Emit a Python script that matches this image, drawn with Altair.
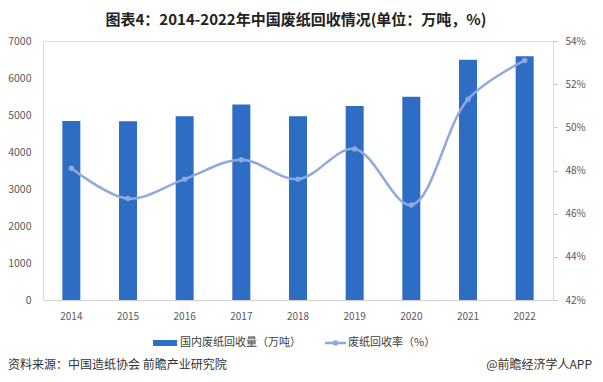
import altair as alt
import pandas as pd

years = ["2014", "2015", "2016", "2017", "2018", "2019", "2020", "2021", "2022"]
volume = [4841, 4832, 4963, 5285, 4964, 5244, 5493, 6491, 6585]
rate = [48.1, 46.7, 47.6, 48.5, 47.6, 49.0, 46.4, 51.3, 53.1]

title_text = "图表4：2014-2022年中国废纸回收情况(单位：万吨，%)"
legend_bar = "国内废纸回收量（万吨）"
legend_line = "废纸回收率（%）"
source_text = "资料来源：中国造纸协会 前瞻产业研究院"
brand_text = "@前瞻经济学人APP"

FONT = "Noto Sans CJK SC"
BAR = "#2E6DC4"
LINE = "#8FA9DE"
GRAY = "#595959"

df = pd.DataFrame({"year": years, "volume": volume, "rate": rate})
one = pd.DataFrame({"k": [0]})

x = alt.X("year:N", title=None,
          scale=alt.Scale(paddingInner=0, paddingOuter=0),
          axis=alt.Axis(labelAngle=0, labelColor=GRAY, labelFontSize=10, labelFont=FONT,
                        ticks=False, domainColor="#D0D0D0", labelPadding=11))

bars = alt.Chart(df).mark_bar(size=18, color=BAR).encode(
    x=x,
    y=alt.Y("volume:Q", title=None,
            scale=alt.Scale(domain=[0, 7000]),
            axis=alt.Axis(values=list(range(0, 7001, 1000)), grid=False, ticks=False,
                          format="d", domain=True, domainColor="#D9D9D9", labelColor=GRAY,
                          labelFontSize=10.5, labelFont=FONT, labelPadding=12)),
)

line = alt.Chart(df).mark_line(color=LINE, strokeWidth=2.5, interpolate="catmull-rom").encode(
    x=alt.X("year:N"),
    y=alt.Y("rate:Q", title=None,
            scale=alt.Scale(domain=[42, 54]),
            axis=alt.Axis(orient="right", values=list(range(42, 55, 2)), grid=False,
                          labelExpr="datum.value + '%'", ticks=True, tickSize=4,
                          tickColor="#BFBFBF", domain=True, domainColor="#D9D9D9",
                          labelColor=GRAY, labelFontSize=10, labelFont=FONT, labelPadding=8)),
)
pts = alt.Chart(df).mark_point(filled=True, color=LINE, size=30, opacity=1).encode(
    x=alt.X("year:N"),
    y=alt.Y("rate:Q", scale=alt.Scale(domain=[42, 54])),
)
rate_layer = alt.layer(line, pts)

# legend & footer
leg_rect = alt.Chart(one).mark_rect(color=BAR).encode(
    x=alt.value(110), x2=alt.value(134), y=alt.value(299), y2=alt.value(305))
leg_t1 = alt.Chart(one).mark_text(text=legend_bar, align="left", baseline="middle",
                                  font=FONT, fontSize=11, color="#404040").encode(
    x=alt.value(137), y=alt.value(302))
leg_rule = alt.Chart(one).mark_rule(color=LINE, strokeWidth=2.5).encode(
    x=alt.value(282), x2=alt.value(303), y=alt.value(302))
leg_dot = alt.Chart(one).mark_point(filled=True, color=LINE, size=30, opacity=1).encode(
    x=alt.value(292.5), y=alt.value(302))
leg_t2 = alt.Chart(one).mark_text(text=legend_line, align="left", baseline="middle",
                                  font=FONT, fontSize=11, color="#404040").encode(
    x=alt.value(305), y=alt.value(302))
src = alt.Chart(one).mark_text(text=source_text, align="left", baseline="middle",
                               font=FONT, fontSize=12, color="#333333").encode(
    x=alt.value(-35), y=alt.value(324))
brand = alt.Chart(one).mark_text(text=brand_text, align="right", baseline="middle",
                                 font=FONT, fontSize=12, color="#333333").encode(
    x=alt.value(549), y=alt.value(324))
ttl = alt.Chart(one).mark_text(text=title_text, align="center", baseline="middle",
                               font=FONT, fontSize=15, fontWeight="bold", color="#222222").encode(
    x=alt.value(253), y=alt.value(-21.5))

main = alt.layer(bars, rate_layer).resolve_scale(y="independent")

chart = alt.layer(main, leg_rect, leg_t1, leg_rule, leg_dot, leg_t2, src, brand, ttl).properties(
    width=510, height=259,
    autosize=alt.AutoSizeParams(type="none"),
    padding={"left": 35, "top": 33, "right": 42, "bottom": 74},
).configure_view(stroke=None).configure(background="white")

chart.save("out.html", embed_options={"renderer": "svg", "actions": False})
